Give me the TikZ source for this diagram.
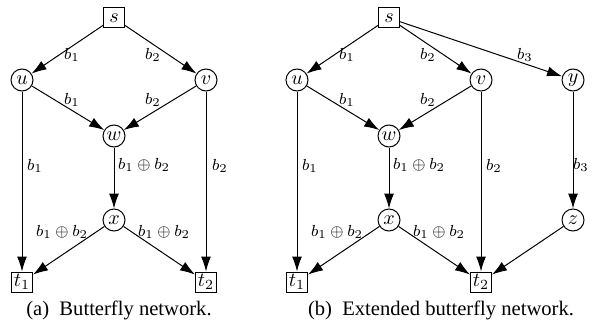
\documentclass[tikz,border=0pt]{standalone}
\usepackage{amsmath}
\usepackage{fontspec}
\setmainfont{Liberation Serif}
\usepackage{tikz}
\usetikzlibrary{arrows.meta}

\begin{document}
\begin{tikzpicture}[
  x=0.5pt, y=-0.5pt,
  vtx/.style={draw, circle, inner sep=0pt, minimum size=11pt, line width=0.5pt},
  term/.style={draw, rectangle, inner sep=0.5pt, minimum width=10.5pt, minimum height=10pt, line width=0.5pt},
  lbl/.style={font=\footnotesize, inner sep=0.5pt},
  captxt/.style={font=\fontsize{10.3}{12}\selectfont, inner sep=0pt},
  arr/.style={-{Latex[length=7.5pt, width=5pt]}, line width=0.5pt}
]
\useasboundingbox (0,0) rectangle (597,326);

% (a) butterfly network
\begin{scope}[name prefix=a-]
\node[term] (s) at (114,18) {$s$};
\node[vtx] (u) at (22,80) {$u$};
\node[vtx] (v) at (206,80) {$v$};
\node[vtx] (w) at (114,136) {$w$};
\node[vtx] (x) at (114,220) {$x$};
\node[term] (t1) at (22,282) {$t_1$};
\node[term] (t2) at (206,282) {$t_2$};

\draw[arr] (s) -- (u);
\draw[arr] (s) -- (v);
\draw[arr] (u) -- (w);
\draw[arr] (v) -- (w);
\draw[arr] (u) -- (t1);
\draw[arr] (w) -- (x);
\draw[arr] (v) -- (t2);
\draw[arr] (x) -- (t1);
\draw[arr] (x) -- (t2);

\node[lbl] (lsu) at (72,55) {$b_1$};
\node[lbl] (lsv) at (153,55) {$b_2$};
\node[lbl] (luw) at (72,100) {$b_1$};
\node[lbl] (lvw) at (153,100) {$b_2$};
\node[lbl] (lut) at (35,166) {$b_1$};
\node[lbl] (lwx) at (144,165) {$b_1 \oplus b_2$};
\node[lbl] (lvt) at (220,166) {$b_2$};
\node[lbl] (lxt1) at (62,232) {$b_1 \oplus b_2$};
\node[lbl] (lxt2) at (164,232) {$b_1 \oplus b_2$};

\node[captxt] (caption) at (119,310) {(a)\enspace Butterfly network.};
\end{scope}

% (b) extended butterfly network
\begin{scope}[name prefix=b-, shift={(275,0)}]
\node[term] (s) at (114,18) {$s$};
\node[vtx] (u) at (22,80) {$u$};
\node[vtx] (v) at (206,80) {$v$};
\node[vtx] (y) at (298,80) {$y$};
\node[vtx] (w) at (114,136) {$w$};
\node[vtx] (x) at (114,220) {$x$};
\node[vtx] (z) at (298,220) {$z$};
\node[term] (t1) at (22,282) {$t_1$};
\node[term] (t2) at (206,282) {$t_2$};

\draw[arr] (s) -- (u);
\draw[arr] (s) -- (v);
\draw[arr] (s) -- (y);
\draw[arr] (u) -- (w);
\draw[arr] (v) -- (w);
\draw[arr] (u) -- (t1);
\draw[arr] (w) -- (x);
\draw[arr] (v) -- (t2);
\draw[arr] (y) -- (z);
\draw[arr] (x) -- (t1);
\draw[arr] (x) -- (t2);
\draw[arr] (z) -- (t2);

\node[lbl] (lsu) at (72,55) {$b_1$};
\node[lbl] (lsv) at (153,55) {$b_2$};
\node[lbl] (lsy) at (250,55) {$b_3$};
\node[lbl] (luw) at (72,100) {$b_1$};
\node[lbl] (lvw) at (153,100) {$b_2$};
\node[lbl] (lut) at (35,166) {$b_1$};
\node[lbl] (lwx) at (144,165) {$b_1 \oplus b_2$};
\node[lbl] (lvt) at (219,166) {$b_2$};
\node[lbl] (lyz) at (306,165) {$b_3$};
\node[lbl] (lxt1) at (62,232) {$b_1 \oplus b_2$};
\node[lbl] (lxt2) at (164,232) {$b_1 \oplus b_2$};

\node[captxt] (caption) at (166,310) {(b)\enspace Extended butterfly network.};
\end{scope}
\end{tikzpicture}
\end{document}
